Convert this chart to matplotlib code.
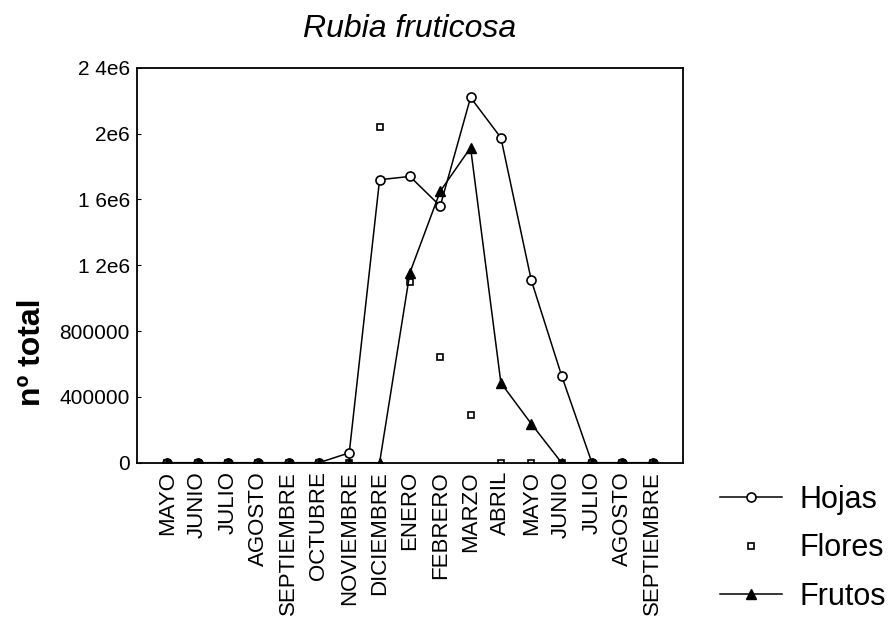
import numpy as np
import matplotlib.pyplot as plt

plt.rcParams['font.family'] = ['Liberation Sans', 'DejaVu Sans']

meses = ['MAYO', 'JUNIO', 'JULIO', 'AGOSTO', 'SEPTIEMBRE', 'OCTUBRE', 'NOVIEMBRE',
         'DICIEMBRE', 'ENERO', 'FEBRERO', 'MARZO', 'ABRIL', 'MAYO', 'JUNIO',
         'JULIO', 'AGOSTO', 'SEPTIEMBRE']

hojas = [0, 0, 0, 0, 0, 0, 60000, 1720000, 1740000, 1560000, 2220000, 1975000,
         1110000, 530000, 0, 0, 0]
flores = [0, 0, 0, 0, 0, 0, 0, 2040000, 1100000, 640000, 290000, 0, 0, 0, 0, 0, 0]
frutos = [0, 0, 0, 0, 0, 0, 0, 0, 1155000, 1650000, 1915000, 485000, 237000,
          0, 0, 0, 0]

yticks = [0, 400000, 800000, 1200000, 1600000, 2000000, 2400000]
yticklabels = ['0', '400000', '800000', '1 2e6', '1 6e6', '2e6', '2 4e6']

x = np.arange(len(meses))

fig = plt.figure(figsize=(8.95, 6.4), dpi=100)
ax = fig.add_axes([0.153, 0.277, 0.610, 0.617])

ax.plot(x, hojas, color='black', lw=1.1, marker='o', ms=6.5,
        mfc='white', mec='black', mew=1.2, label='Hojas')
ax.plot(x, flores, ls='none', marker='s', ms=5,
        mfc='white', mec='black', mew=1.2, label='Flores')
ax.plot(x, frutos, color='black', lw=1.1, marker='^', ms=6.5,
        mfc='black', mec='black', label='Frutos')

ax.set_xlim(-1, len(meses))
ax.set_ylim(0, 2400000)
ax.set_xticks(x)
ax.set_xticklabels(meses, rotation=90, fontsize=16)
ax.tick_params(axis='x', length=0, pad=6)
ax.set_yticks(yticks)
ax.set_yticklabels(yticklabels, fontsize=15)
ax.tick_params(axis='y', direction='in', length=3, pad=5)
for s in ax.spines.values():
    s.set_linewidth(1.3)

ax.set_ylabel('nº total', fontsize=23, fontweight='bold')
ax.yaxis.set_label_coords(-0.165, 0.28)
ax.set_title('Rubia fruticosa', fontsize=23, style='italic', pad=22)

fig.legend(loc='center left', bbox_to_anchor=(0.805, 0.143), frameon=False,
           fontsize=22, handlelength=2.0, handletextpad=0.6, labelspacing=0.6,
           borderaxespad=0, borderpad=0)

fig.savefig('out.png', dpi=100)
